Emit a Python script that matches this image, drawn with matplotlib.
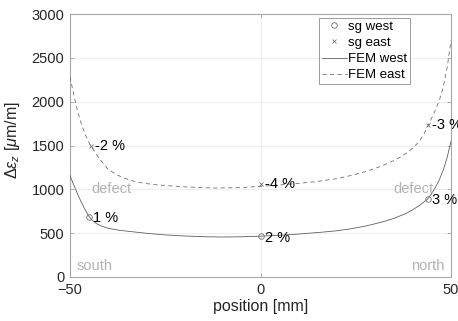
import matplotlib
matplotlib.use("Agg")
import matplotlib.pyplot as plt

plt.rcParams["font.family"] = ["Liberation Sans", "DejaVu Sans"]
plt.rcParams["mathtext.fontset"] = "custom"
plt.rcParams["mathtext.rm"] = "Liberation Sans"
plt.rcParams["mathtext.it"] = "Liberation Sans:italic"

# strain gauge readings
sg_west_x = [-45, 0, 44]
sg_west_y = [690, 466, 895]
sg_west_lbl = ["1 %", "2 %", "3 %"]
sg_east_x = [-44.5, 0, 44]
sg_east_y = [1495, 1060, 1735]
sg_east_lbl = ["-2 %", "-4 %", "-3 %"]

# FEM results along the plate
fem_west_x = [-50, -49, -48, -47, -46, -45, -44, -43, -42, -40, -37, -33, -29, -25,
              -20, -15, -10, -5, 0, 5, 10, 15, 20, 24, 28, 32, 35, 38, 40, 42, 44,
              45, 46, 47, 48, 49, 50]
fem_west_y = [1155, 1050, 945, 850, 765, 690, 640, 608, 585, 556, 533, 513, 495, 480,
              468, 460, 456, 459, 466, 476, 490, 507, 527, 552, 585, 628, 668, 722,
              768, 825, 895, 955, 1030, 1115, 1225, 1365, 1550]
fem_east_x = [-50, -49, -48, -47, -46, -45, -44, -43, -42, -40, -38, -36, -34, -32,
              -29, -26, -20, -12, -5, 0, 5, 10, 15, 20, 24, 28, 30, 32, 35, 37, 39,
              40, 41, 42, 43, 44, 45, 46, 47, 48, 49, 50]
fem_east_y = [2285, 2075, 1890, 1745, 1625, 1530, 1460, 1395, 1335, 1228, 1172, 1132,
              1102, 1080, 1060, 1047, 1028, 1015, 1020, 1035, 1050, 1068, 1090, 1122,
              1160, 1208, 1238, 1270, 1328, 1375, 1435, 1472, 1515, 1568, 1640, 1730,
              1820, 1915, 2025, 2170, 2390, 2700]

x_ticks = [-50, 0, 50]
y_ticks = [0, 500, 1000, 1500, 2000, 2500, 3000]

fig = plt.figure(figsize=(4.58, 3.21), dpi=100)
ax = fig.add_axes([70 / 458, 44 / 321, 381 / 458, 263 / 321])

edge = "#a6a6a6"
ax.plot(sg_west_x, sg_west_y, linestyle="none", marker="o", ms=4, mfc="none",
        mec="#707070", mew=0.6, label="sg west", zorder=4)
ax.plot(sg_east_x, sg_east_y, linestyle="none", marker="x", ms=3.5,
        mec="#707070", mew=0.6, label="sg east", zorder=4)
ax.plot(fem_west_x, fem_west_y, color="#606060", lw=0.6, label="FEM west", zorder=3)
ax.plot(fem_east_x, fem_east_y, color="#707070", lw=0.6, dashes=(5, 4),
        label="FEM east", zorder=3)

for x, y, s in zip(sg_west_x, sg_west_y, sg_west_lbl):
    ax.annotate(s, (x, y), xytext=(3, -1), textcoords="offset points",
                ha="left", va="center", fontsize=10.5, color="black", zorder=5)
for x, y, s in zip(sg_east_x, sg_east_y, sg_east_lbl):
    ax.annotate(s, (x, y), xytext=(3, 0), textcoords="offset points",
                ha="left", va="center", fontsize=10.5, color="black", zorder=5)

note = "#b3b3b3"
ax.text(-44.3, 1000, "defect", color=note, fontsize=10.5, ha="left", va="center")
ax.text(45.3, 1000, "defect", color=note, fontsize=10.5, ha="right", va="center")
ax.text(-48.2, 125, "south", color=note, fontsize=10.5, ha="left", va="center")
ax.text(48.2, 125, "north", color=note, fontsize=10.5, ha="right", va="center")

ax.set_xlim(-50, 50)
ax.set_ylim(0, 3000)
ax.set_xticks(x_ticks)
ax.set_yticks(y_ticks)
ax.grid(True, color="#ebebeb", lw=0.6)
ax.set_axisbelow(True)
for sp in ax.spines.values():
    sp.set_color(edge)
    sp.set_linewidth(0.8)
ax.tick_params(direction="in", length=3, width=0.6, color=edge,
               labelsize=10.5, labelcolor="#262626", pad=4,
               top=True, right=True)

ax.set_xlabel("position [mm]", fontsize=11.5, color="#262626", labelpad=2)
ax.set_ylabel(r"$\Delta\epsilon_z$ [$\mu$m/m]", fontsize=11.5, color="#262626")
ax.yaxis.set_label_coords(-0.127, 0.52)

leg = ax.legend(loc="upper right", bbox_to_anchor=(0.892, 0.985), fontsize=9.5,
                frameon=True, fancybox=False, framealpha=1, edgecolor="#8c8c8c",
                handlelength=1.9, handletextpad=0.1, labelspacing=0.3,
                borderpad=0.2, borderaxespad=0)
leg.get_frame().set_linewidth(0.6)

fig.savefig("out.png", dpi=100)
